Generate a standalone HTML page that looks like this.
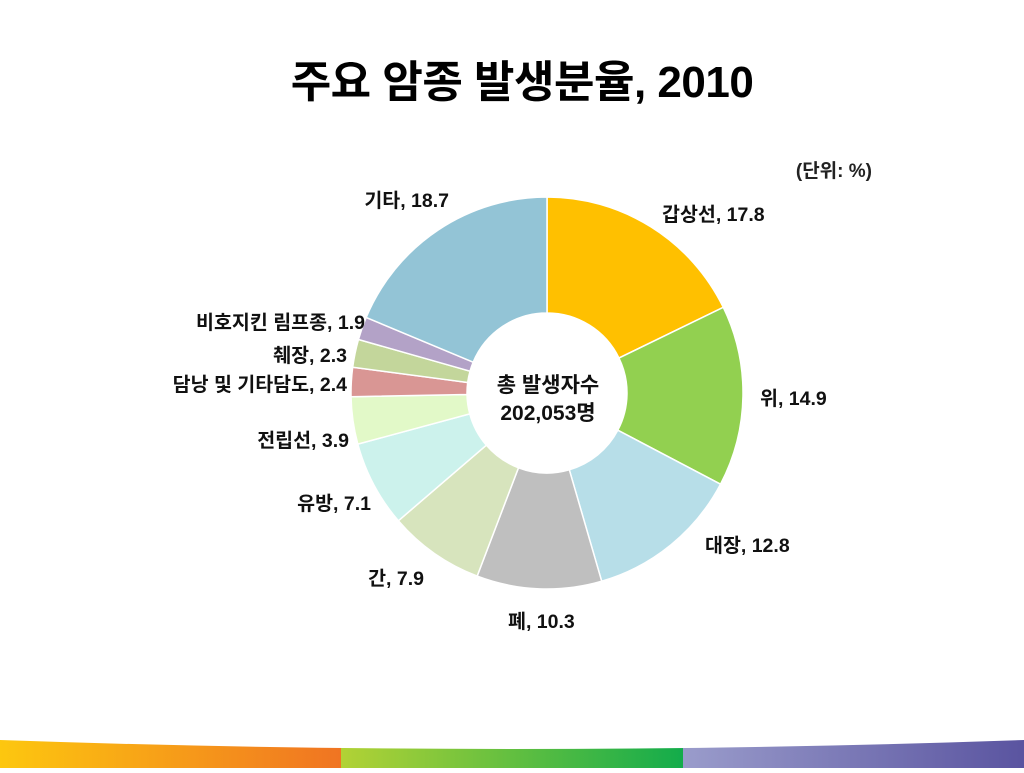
<!DOCTYPE html>
<html><head><meta charset="utf-8"><style>
html,body{margin:0;padding:0;background:#fff;}
body{width:1024px;height:768px;position:relative;overflow:hidden;font-family:"Liberation Sans","Noto Sans CJK KR",sans-serif;}
</style></head><body>
<svg width="1024" height="768" viewBox="0 0 1024 768" xmlns="http://www.w3.org/2000/svg">
<defs>
<linearGradient id="g1" x1="0" x2="1"><stop offset="0" stop-color="#FDC70F"/><stop offset="1" stop-color="#F07422"/></linearGradient>
<linearGradient id="g2" x1="0" x2="1"><stop offset="0" stop-color="#B2D235"/><stop offset="1" stop-color="#13AC4B"/></linearGradient>
<linearGradient id="g3" x1="0" x2="1"><stop offset="0" stop-color="#9A9CCB"/><stop offset="1" stop-color="#5A54A0"/></linearGradient>
<clipPath id="wave"><path d="M0 740 Q512 758 1024 740 L1024 768 L0 768 Z"/></clipPath>
</defs>
<text x="522" y="97" text-anchor="middle" font-size="44" font-weight="bold" fill="#000" letter-spacing="-0.5">주요 암종 발생분율, 2010</text>
<text x="872" y="177" text-anchor="end" font-size="19" font-weight="bold" fill="#222">(단위: %)</text>
<g id="pie"></g>
<g id="labels"></g>
<text x="548" y="392" text-anchor="middle" font-size="21" font-weight="bold" fill="#111">총 발생자수</text>
<text x="548" y="420" text-anchor="middle" font-size="21" font-weight="bold" fill="#111">202,053명</text>
<g clip-path="url(#wave)">
<rect x="0" y="730" width="341" height="38" fill="url(#g1)"/>
<rect x="341" y="730" width="342" height="38" fill="url(#g2)"/>
<rect x="683" y="730" width="341" height="38" fill="url(#g3)"/>
</g>
</svg>
<script>
const categories=["갑상선","위","대장","폐","간","유방","전립선","담낭 및 기타담도","췌장","비호지킨 림프종","기타"];
const values=[17.8,14.9,12.8,10.3,7.9,7.1,3.9,2.4,2.3,1.9,18.7];
const colors=["#FFC000","#92D050","#B7DEE8","#BFBFBF","#D7E4BD","#CCF2EC","#E2F9C8","#D99694","#C3D69B","#B3A2C7","#93C4D6"];
// label layout (x, y, anchor)
const labelPos=[[662,221,"start"],[760,405,"start"],[705,552,"start"],[508,628,"start"],[424,585,"end"],[371,510,"end"],[349,447,"end"],[347,391,"end"],[347,362,"end"],[365,329,"end"],[449,207,"end"]];
const cx=547,cy=393,R=196,r=80;
const ns="http://www.w3.org/2000/svg";
const total=values.reduce((a,b)=>a+b,0);
function pt(a,rad){return [cx+rad*Math.sin(a),cy-rad*Math.cos(a)];}
let acc=0;
const pie=document.getElementById('pie'),lab=document.getElementById('labels');
values.forEach((v,i)=>{
  const a0=acc/total*2*Math.PI; acc+=v; const a1=acc/total*2*Math.PI;
  const large=(a1-a0)>Math.PI?1:0;
  const p0=pt(a0,R),p1=pt(a1,R),q1=pt(a1,r),q0=pt(a0,r);
  const p=document.createElementNS(ns,'path');
  p.setAttribute('d',`M${p0[0]} ${p0[1]} A${R} ${R} 0 ${large} 1 ${p1[0]} ${p1[1]} L${q1[0]} ${q1[1]} A${r} ${r} 0 ${large} 0 ${q0[0]} ${q0[1]} Z`);
  p.setAttribute('fill',colors[i]);p.setAttribute('stroke','#fff');p.setAttribute('stroke-width','1.5');
  
  
  pie.appendChild(p);
  const t=document.createElementNS(ns,'text');
  t.setAttribute('x',labelPos[i][0]);t.setAttribute('y',labelPos[i][1]);t.setAttribute('text-anchor',labelPos[i][2]);
  t.setAttribute('font-size','19.5');t.setAttribute('font-weight','bold');t.setAttribute('fill','#111');
  t.textContent=categories[i]+", "+v.toFixed(1);
  
  
  lab.appendChild(t);
});
</script>
</body></html>
